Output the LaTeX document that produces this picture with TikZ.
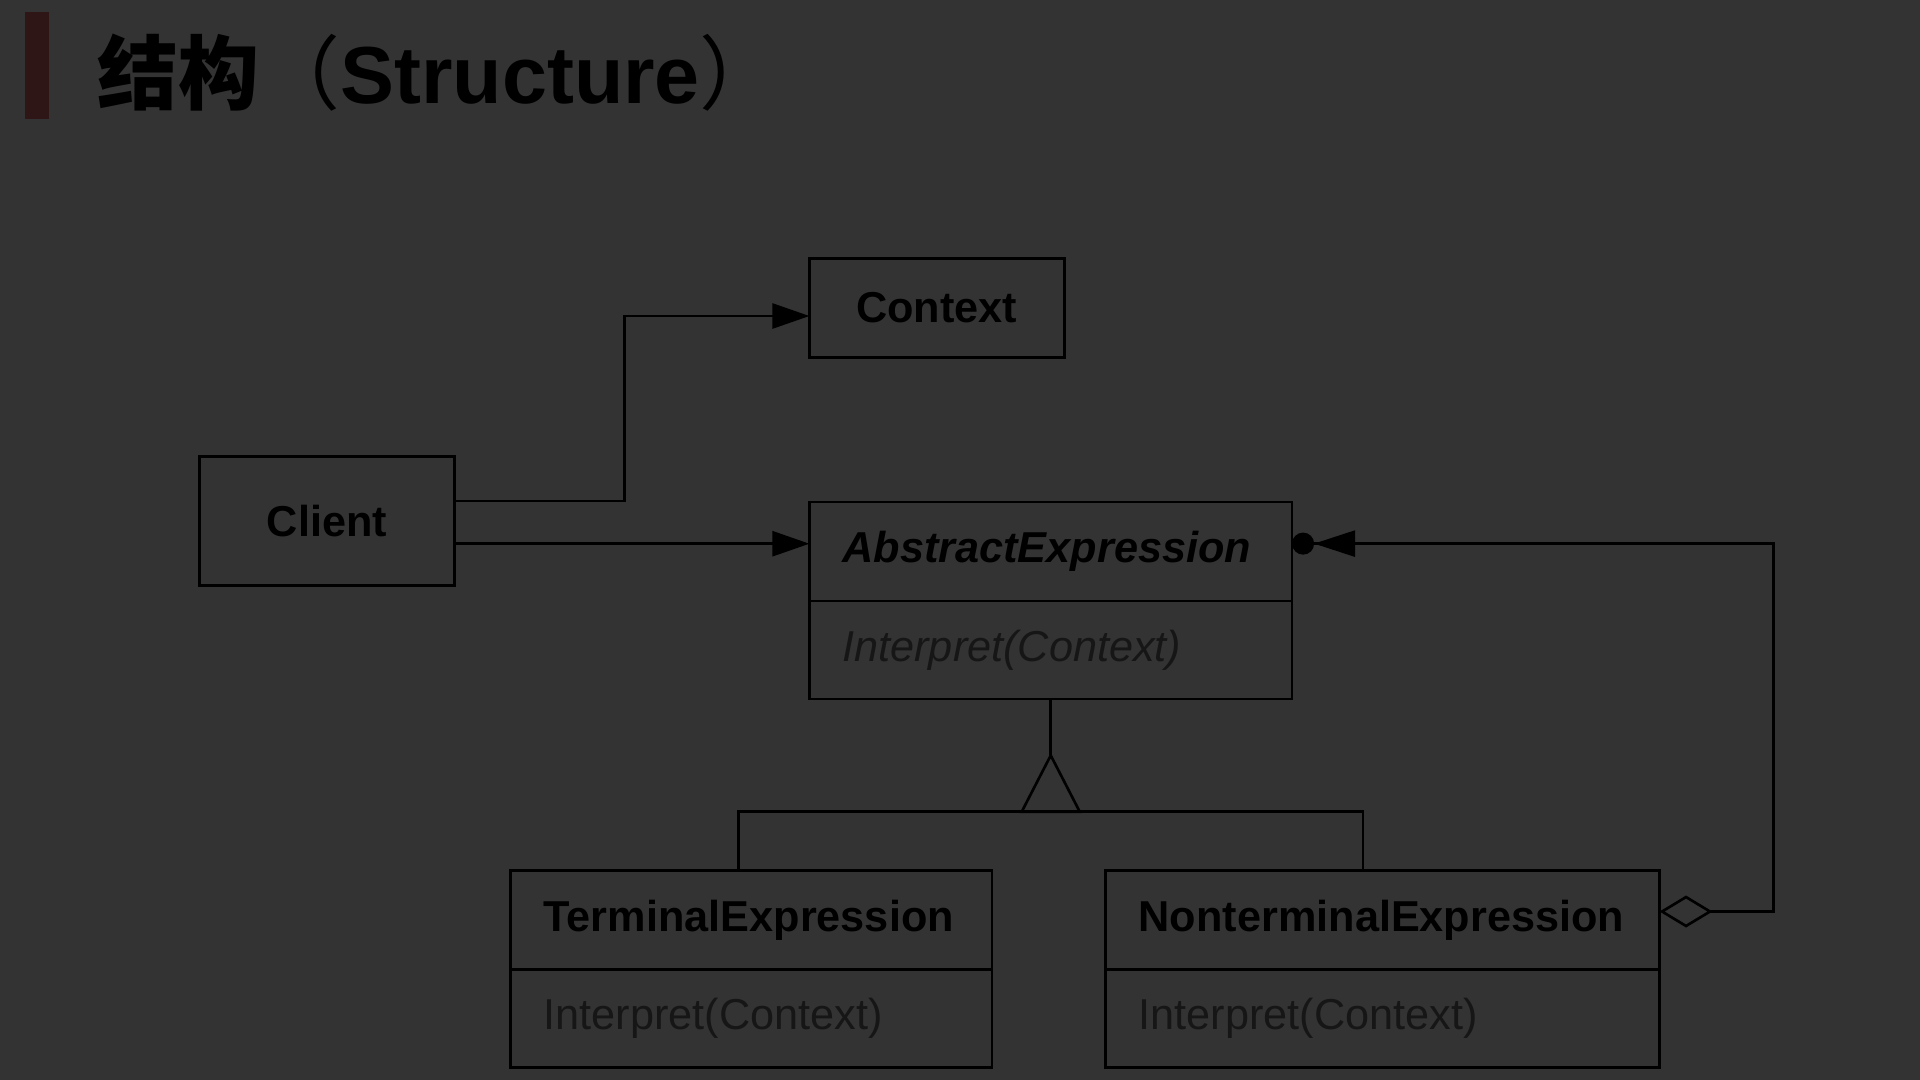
\documentclass[tikz,border=0pt]{standalone}
\usepackage{fontspec}
\setmainfont{Liberation Sans}
\newfontfamily\cjk{Noto Sans CJK SC}
\usetikzlibrary{calc, positioning, arrows.meta}
\definecolor{bgGrey}{HTML}{333333}
\definecolor{barRed}{HTML}{2E1616}
\definecolor{opText}{HTML}{161616}
\tikzset{
  classbox/.style={draw=black, line width=0.75pt, outer sep=0pt, inner xsep=0.33cm, inner ysep=0pt,
    minimum height=0.99cm, align=left, text=black, font=\fontsize{12.3}{14}\selectfont\bfseries},
  opbox/.style={classbox, minimum height=0.98cm, text=opText, font=\fontsize{12.3}{14}\selectfont},
  plainbox/.style={draw=black, line width=0.75pt, outer sep=0pt, minimum width=2.547cm,
    text=black, font=\fontsize{12.3}{14}\selectfont\bfseries},
  link/.style={line width=0.75pt, -{Triangle[length=0.37cm,width=0.25cm]}},
}

\begin{document}
\begin{tikzpicture}[x=0.01cm, y=-0.01cm]
                \fill[bgGrey] (0,0) rectangle (1920,1080);
                \fill[barRed] (24.5,12.2) rectangle (49,118.8);
                \node[anchor=base west, inner sep=0, text=black, font=\fontsize{23}{27}\selectfont\bfseries] (title) at (97,104)
                    {{\cjk 结构{\mdseries （}}Structure{\cjk\mdseries ）}};

                \node[plainbox, minimum height=0.992cm, anchor=north west] (context) at (809.4,258.4) {Context};
                \node[plainbox, minimum height=1.286cm, anchor=north west] (client) at (199.6,456.7) {Client};

                \node[classbox, text width=4.164cm, anchor=north west, font=\fontsize{12.3}{14}\selectfont\bfseries\itshape]
                    (absName) at (809.4,502) {AbstractExpression};
                \node[opbox, text width=4.164cm, below=0pt of absName, font=\fontsize{12.3}{14}\selectfont\itshape]
                    (absOp) {Interpret(Context)};

                \foreach \nm/\px/\tw/\txt in {term/510.6/4.152/TerminalExpression, nterm/1105.7/4.875/NonterminalExpression}{
                    \node[classbox, text width=\tw cm, anchor=north west] (\nm Name) at (\px,870.6) {\txt};
                    \node[opbox, text width=\tw cm, below=0pt of \nm Name] (\nm Op) {Interpret(Context)};
                }

                \coordinate (cliUp) at ($(client.east)+(0,-20.2)$);
                \coordinate (cliDown) at ($(client.east)+(0,22.7)$);
                \coordinate (ctxIn) at ($(context.west)+(0,8)$);
                \draw[link] (cliUp) -- ++(170.2,0) |- (ctxIn);
                \draw[link] (cliDown) -- (cliDown -| absName.west);

                \coordinate (aggOut) at ($(ntermName.east)+(0,-8.6)$);
                \coordinate (aggIn) at ($(absName.east)+(0,-7.9)$);
                \draw[line width=0.75pt, {Diamond[open,length=0.53cm,width=0.32cm]}-{Triangle[length=0.41cm,width=0.26cm]Circle[length=0.22cm]}]
                    (aggOut) -- ++(113.9,0) |- (aggIn);

                \coordinate (apex) at ($(absOp.south)+(0,56.3)$);
                \draw[line width=0.75pt] (absOp.south) -- (apex);
                \draw[line width=0.75pt] (apex) -- ++(-29,56.3) -- ++(58,0) -- cycle;
                \draw[line width=0.75pt] ($(termName.north west)+(227.8,0)$) -- ++(0,-58.8) -| ($(ntermName.north west)+(257.2,0)$);
            \end{tikzpicture}
\end{document}
